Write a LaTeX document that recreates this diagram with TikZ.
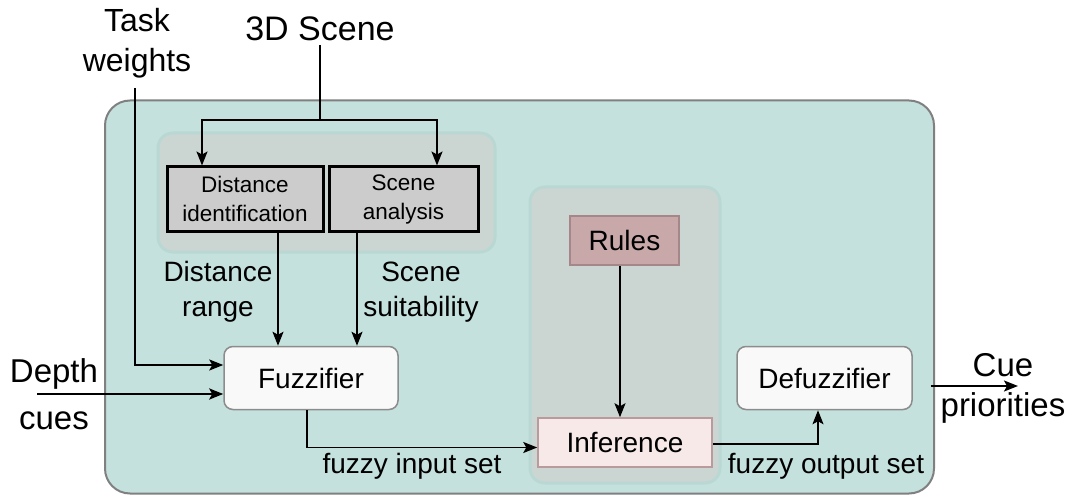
\documentclass[tikz,border=0pt]{standalone}
\usepackage{fontspec}
\setmainfont{Liberation Sans}
\usetikzlibrary{arrows.meta}
\definecolor{bgteal}{RGB}{197,225,221}
\definecolor{outerline}{RGB}{128,128,128}
\definecolor{grpfill}{RGB}{203,214,210}
\definecolor{grpline}{RGB}{186,216,211}
\definecolor{boxgray}{RGB}{204,204,204}
\definecolor{rulefill}{RGB}{201,168,170}
\definecolor{ruleline}{RGB}{165,135,137}
\definecolor{inffill}{RGB}{248,233,233}
\definecolor{infline}{RGB}{185,155,157}
\definecolor{softfill}{RGB}{249,249,249}
\definecolor{softline}{RGB}{140,140,140}
\tikzset{
  outerbox/.style={draw=outerline, fill=bgteal, line width=2pt, rounded corners=25pt, inner sep=0pt},
  grpbox/.style={draw=grpline, fill=grpfill, line width=3pt, rounded corners=15pt, inner sep=0pt},
  sbox/.style={draw=black, fill=boxgray, line width=3pt, inner sep=0pt, align=center,
    font=\fontsize{22.5}{29}\selectfont},
  softbox/.style={draw=softline, fill=softfill, line width=1.5pt, rounded corners=9pt, inner sep=0pt,
    font=\fontsize{28}{33}\selectfont},
  rulebox/.style={draw=ruleline, fill=rulefill, line width=1.5pt, inner sep=0pt,
    font=\fontsize{28}{33}\selectfont},
  infbox/.style={draw=infline, fill=inffill, line width=1.5pt, inner sep=0pt,
    font=\fontsize{28}{33}\selectfont},
  biglbl/.style={inner sep=0pt, align=center, font=\fontsize{33}{36}\selectfont},
  midlbl/.style={inner sep=0pt, align=center, font=\fontsize{28}{35}\selectfont},
  arr/.style={-{Stealth[length=14pt,width=11pt,inset=3pt]}, line width=1.5pt},
  plainline/.style={line width=1.5pt}
}
\begin{document}
\begin{tikzpicture}[x=1pt,y=-1pt]
\useasboundingbox (0,0) rectangle (1074,500);
% containers
\node[outerbox, minimum width=829pt, minimum height=393pt] (outer) at (519.5,297) {};
\node[grpbox, minimum width=337pt, minimum height=119pt] (grpA) at (326.5,192.5) {};
\node[grpbox, minimum width=190pt, minimum height=296pt] (grpB) at (625,335) {};
% boxes
\node[sbox, minimum width=156pt, minimum height=64pt] (dist) at (245,199) {Distance\\identification};
\node[sbox, minimum width=149pt, minimum height=64pt] (scene) at (403.5,199) {Scene\\analysis};
\node[softbox, minimum width=174pt, minimum height=63pt] (fuzz) at (311,378) {Fuzzifier};
\node[rulebox, minimum width=109pt, minimum height=49pt] (rules) at (624.5,240.5) {Rules};
\node[infbox, minimum width=174pt, minimum height=49pt] (infer) at (625,442.5) {Inference};
\node[softbox, minimum width=175pt, minimum height=63pt] (defuzz) at (824.5,378) {Defuzzifier};
% outer labels
\node[biglbl, font=\fontsize{34}{36}\selectfont] (scene3d) at (320,29) {3D Scene};
\node[biglbl, font=\fontsize{32}{40}\selectfont] (task) at (137,43) {Task\\weights};
\node[biglbl] (depth) at (54,394) {Depth\\[11pt]cues};
\node[biglbl, font=\fontsize{33}{40}\selectfont] (cue) at (1003,388) {Cue\\priorities};
\node[midlbl] (drange) at (218,292) {Distance\\range};
\node[midlbl] (ssuit) at (421,292.5) {Scene\\suitability};
\node[midlbl] (finset) at (412,466) {fuzzy input set};
\node[midlbl] (foutset) at (826,466) {fuzzy output set};
% coordinates for free ends
\coordinate (sctop) at (320,45);
\coordinate (split) at (320,120);
\coordinate (twtop) at (135,88);
\coordinate (dcstart) at (37,394);
\coordinate (cueend) at (1018,386);
% connectors
\draw[plainline] (sctop) -- (split);
\draw[arr] (split) -| ([xshift=-43pt]dist.north);
\draw[arr] (split) -| ([xshift=33.5pt]scene.north);
\draw[arr] (twtop) |- ([yshift=13pt]fuzz.west);
\draw[arr, line width=2.5pt] (dcstart) -- ([yshift=-16pt]fuzz.west);
\draw[arr] ([xshift=33pt]dist.south) -- ([xshift=-33pt]fuzz.north);
\draw[arr] ([xshift=-46.5pt]scene.south) -- ([xshift=46pt]fuzz.north);
\draw[arr] ([xshift=-4pt]fuzz.south) |- ([yshift=-5pt]infer.west);
\draw[arr] ([xshift=-4.5pt]rules.south) -- ([xshift=-5pt]infer.north);
\draw[arr] ([yshift=-1.5pt]infer.east) -| ([xshift=-6.5pt]defuzz.south);
\draw[arr] ([xshift=18pt,yshift=-8pt]defuzz.east) -- (cueend);
\end{tikzpicture}
\end{document}
